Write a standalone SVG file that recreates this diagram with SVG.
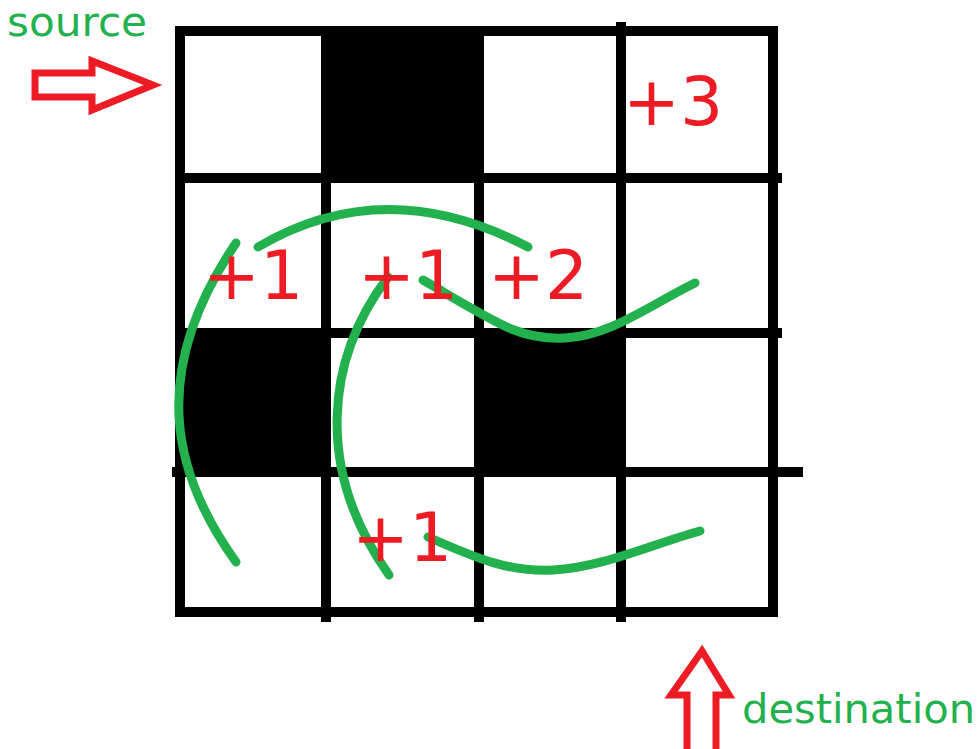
<svg xmlns="http://www.w3.org/2000/svg" width="980" height="749" viewBox="0 0 980 749">
<style>
.bg{fill:#ffffff}
.ln{stroke:#000000;stroke-width:10;fill:none}
.blk{fill:#000000}
.path{stroke:#22b14c;stroke-width:9;fill:none;stroke-linecap:round;stroke-linejoin:round}
.arr{stroke:#ed1c24;stroke-width:7;fill:#ffffff;stroke-linejoin:miter}
.num{font-family:"DejaVu Sans",sans-serif;font-size:68px;fill:#ed1c24}
.lbl{font-family:"DejaVu Sans",sans-serif;font-size:40px;fill:#22b14c}
</style>
<rect class="bg" x="0" y="0" width="980" height="749"/>
<g id="cells">
<rect class="blk" x="326" y="31" width="153" height="147"/>
<rect class="blk" x="180" y="333" width="146" height="139"/>
<rect class="blk" x="479" y="333" width="142" height="139"/>
</g>
<g id="grid">
<line class="ln" x1="175" y1="31" x2="778" y2="31"/>
<line class="ln" x1="175" y1="178" x2="782" y2="178"/>
<line class="ln" x1="175" y1="333" x2="782" y2="333"/>
<line class="ln" x1="172" y1="472" x2="803" y2="472"/>
<line class="ln" x1="175" y1="612" x2="778" y2="612"/>
<line class="ln" x1="180" y1="26" x2="180" y2="617"/>
<line class="ln" x1="326" y1="26" x2="326" y2="622"/>
<line class="ln" x1="479" y1="26" x2="479" y2="622"/>
<line class="ln" x1="621" y1="22" x2="621" y2="622"/>
<line class="ln" x1="773" y1="26" x2="773" y2="617"/>
</g>
<g id="connectors">
<path class="path" d="M258,247 Q385,172 528,247"/>
<path class="path" d="M236,243 C150,370 170,470 236,562"/>
<path class="path" d="M388,277 C325,360 315,470 389,575"/>
<path class="path" d="M423,280 C500,325 520,340 565,338 C610,336 650,305 695,283"/>
<path class="path" d="M428,537 C480,560 510,572 553,570 C600,568 650,545 700,531"/>
</g>
<g id="labels">
<text class="num" x="203" y="299">+1</text>
<text class="num" x="358" y="299">+1</text>
<text class="num" x="488" y="299">+2</text>
<text class="num" x="623" y="125">+3</text>
<text class="num" x="352" y="561">+1</text>
</g>
<g id="source">
<text class="lbl" x="7" y="36" textLength="140" lengthAdjust="spacingAndGlyphs">source</text>
<path class="arr" d="M35,73 L92,73 L92,61 L153,85 L92,110 L92,97 L35,97 Z"/>
</g>
<g id="destination">
<text class="lbl" x="742" y="723" textLength="233" lengthAdjust="spacingAndGlyphs">destination</text>
<path class="arr" d="M702,651 L729,695 L716,695 L716,755 L687,755 L687,695 L671,695 Z"/>
</g>
</svg>
